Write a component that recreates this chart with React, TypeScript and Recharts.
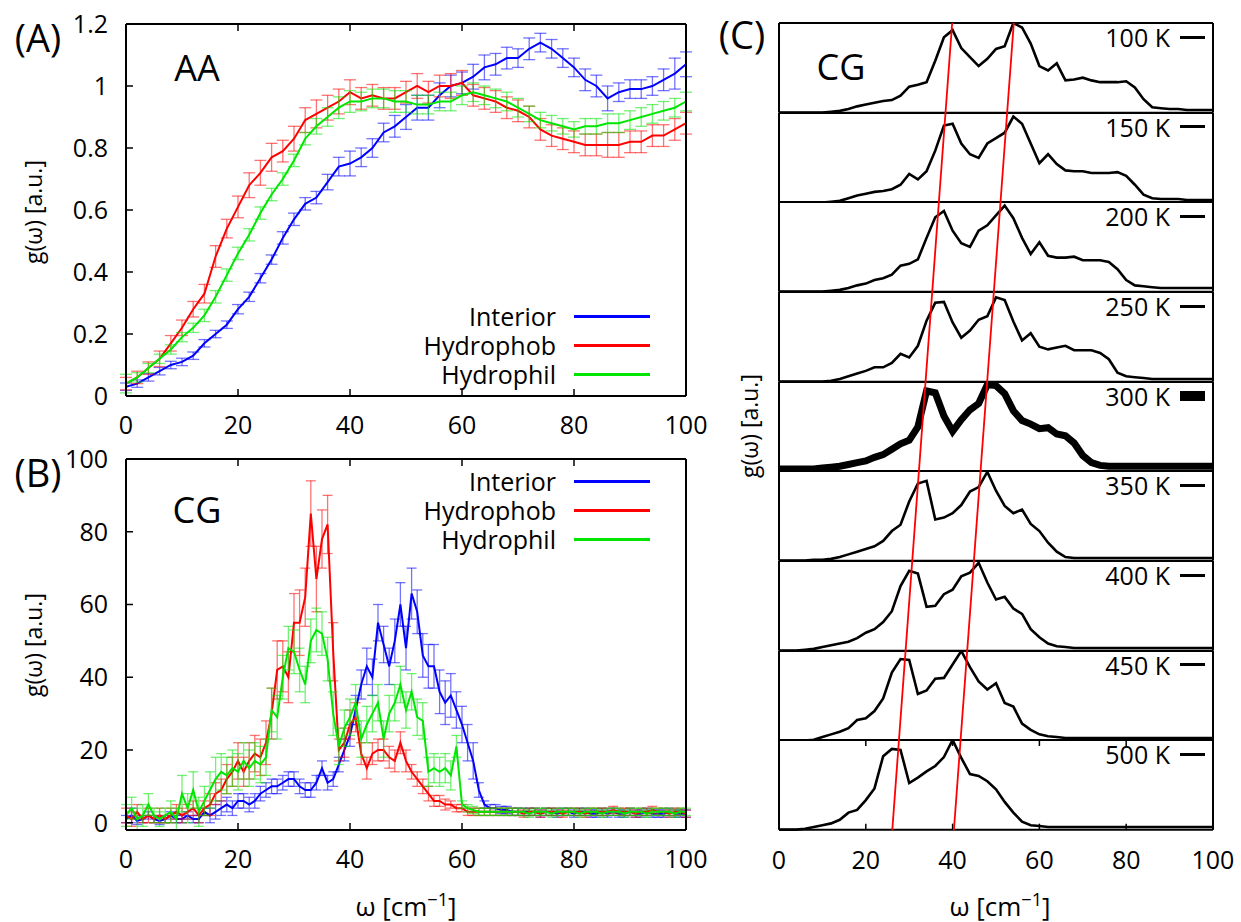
import React from 'react';
import { LineChart, Line, XAxis, YAxis, ErrorBar } from 'recharts';

const FONT = "'Open Sans', 'DejaVu Sans', sans-serif";
const BLUE = '#0000ff';
const RED = '#ff0000';
const GREEN = '#00e600';

// ---- panel (A): all-atom spectra, one point every 2 cm^-1
const omegaAA = [
  0, 2, 4, 6, 8, 10, 12, 14, 16, 18, 20, 22, 24, 26, 28, 30, 32, 34, 36, 38, 40, 42, 44, 46, 48, 50,
  52, 54, 56, 58, 60, 62, 64, 66, 68, 70, 72, 74, 76, 78, 80, 82, 84, 86, 88, 90, 92, 94, 96, 98, 100,
];
const aaInterior = [
  0.03, 0.04, 0.06, 0.08, 0.10, 0.11, 0.13, 0.17, 0.20, 0.23,
  0.28, 0.32, 0.38, 0.44, 0.51, 0.57, 0.62, 0.64, 0.69, 0.74,
  0.75, 0.77, 0.80, 0.85, 0.87, 0.90, 0.93, 0.93, 0.97, 1.00,
  1.01, 1.03, 1.06, 1.07, 1.09, 1.09, 1.12, 1.14, 1.12, 1.09,
  1.06, 1.02, 1.00, 0.96, 0.98, 0.99, 0.99, 1.00, 1.02, 1.04, 1.07,
];
const aaInteriorErr = [
  0.012, 0.012, 0.012, 0.012, 0.012, 0.012, 0.012, 0.012, 0.012, 0.012,
  0.015, 0.015, 0.015, 0.015, 0.02, 0.02, 0.02, 0.02, 0.025, 0.03,
  0.04, 0.03, 0.03, 0.03, 0.035, 0.04, 0.04, 0.04, 0.04, 0.035,
  0.035, 0.04, 0.04, 0.035, 0.035, 0.03, 0.035, 0.03, 0.03, 0.03,
  0.03, 0.035, 0.035, 0.04, 0.03, 0.03, 0.03, 0.03, 0.035, 0.05, 0.04,
];
const aaHydrophob = [
  0.04, 0.06, 0.09, 0.12, 0.17, 0.22, 0.28, 0.33, 0.45, 0.54,
  0.61, 0.68, 0.72, 0.77, 0.79, 0.83, 0.89, 0.91, 0.93, 0.95,
  0.98, 0.96, 0.97, 0.96, 0.96, 0.98, 1.00, 0.98, 1.00, 1.00,
  1.01, 0.97, 0.96, 0.95, 0.93, 0.92, 0.90, 0.86, 0.84, 0.83,
  0.82, 0.81, 0.81, 0.81, 0.81, 0.82, 0.82, 0.84, 0.84, 0.86, 0.88,
];
const aaHydrophobErr = [
  0.02, 0.02, 0.02, 0.025, 0.025, 0.025, 0.025, 0.03, 0.035, 0.03,
  0.035, 0.04, 0.04, 0.045, 0.035, 0.04, 0.04, 0.045, 0.04, 0.04,
  0.04, 0.035, 0.035, 0.035, 0.035, 0.035, 0.04, 0.035, 0.035, 0.04,
  0.04, 0.035, 0.035, 0.035, 0.035, 0.035, 0.035, 0.035, 0.035, 0.035,
  0.035, 0.035, 0.035, 0.04, 0.04, 0.035, 0.035, 0.035, 0.035, 0.035, 0.035,
];
const aaHydrophil = [
  0.04, 0.06, 0.09, 0.12, 0.15, 0.19, 0.22, 0.26, 0.32, 0.39,
  0.46, 0.52, 0.59, 0.65, 0.70, 0.76, 0.83, 0.87, 0.90, 0.93,
  0.95, 0.95, 0.96, 0.96, 0.95, 0.95, 0.94, 0.94, 0.95, 0.95,
  0.97, 0.98, 0.97, 0.96, 0.95, 0.93, 0.91, 0.89, 0.88, 0.87,
  0.86, 0.87, 0.87, 0.88, 0.88, 0.89, 0.90, 0.91, 0.92, 0.93, 0.95,
];
const aaHydrophilErr = [
  0.03, 0.015, 0.015, 0.015, 0.015, 0.015, 0.015, 0.02, 0.02, 0.02,
  0.02, 0.02, 0.02, 0.02, 0.02, 0.02, 0.02, 0.025, 0.03, 0.035,
  0.035, 0.03, 0.03, 0.03, 0.035, 0.035, 0.03, 0.03, 0.03, 0.03,
  0.03, 0.03, 0.03, 0.03, 0.03, 0.03, 0.025, 0.025, 0.025, 0.025,
  0.025, 0.025, 0.025, 0.03, 0.03, 0.03, 0.03, 0.03, 0.03, 0.03, 0.03,
];

// ---- panel (B): coarse-grained spectra, one point every 1 cm^-1
const omegaCG = [
  0, 1, 2, 3, 4, 5, 6, 7, 8, 9, 10, 11, 12, 13, 14, 15, 16, 17, 18, 19,
  20, 21, 22, 23, 24, 25, 26, 27, 28, 29, 30, 31, 32, 33, 34, 35, 36, 37, 38, 39,
  40, 41, 42, 43, 44, 45, 46, 47, 48, 49, 50, 51, 52, 53, 54, 55, 56, 57, 58, 59,
  60, 61, 62, 63, 64, 65, 66, 67, 68, 69, 70, 71, 72, 73, 74, 75, 76, 77, 78, 79,
  80, 81, 82, 83, 84, 85, 86, 87, 88, 89, 90, 91, 92, 93, 94, 95, 96, 97, 98, 99, 100,
];
const cgInterior = [
  1, 2, 0.5, 1, 2, 1, 0.5, 1, 2, 1,
  1, 2, 1, 1, 3, 2, 3, 4, 5, 4,
  6, 6, 5, 6, 8, 9, 10, 10, 11, 12,
  12, 10, 9, 9, 11, 15, 11, 12, 16, 20,
  24, 31, 38, 43, 40, 55, 49, 43, 50, 60,
  48, 63, 58, 46, 43, 43, 36, 33, 35, 31,
  27, 22, 17, 9, 5, 4, 4, 3.5, 3.5, 3,
  3, 3, 3, 3, 2.5, 3, 3, 2.5, 3, 3,
  2.5, 3, 3, 2.5, 2.5, 3, 2.5, 3, 2.5, 2.5,
  3, 2.5, 2.5, 3, 2.5, 2.5, 2.5, 3, 2.5, 2.5, 2.5,
];
const cgInteriorErr = [
  1, 2, 1, 1, 1, 1, 1, 1, 1, 1,
  1, 1, 1, 1, 1, 2, 2, 2, 2, 2,
  2, 2, 2, 2, 2, 2, 2, 2, 2, 2,
  2, 2, 2, 2, 2, 2, 2, 2, 2, 3,
  3, 4, 4, 5, 5, 5, 5, 5, 6, 6,
  6, 7, 6, 6, 6, 6, 6, 6, 6, 5,
  5, 5, 5, 2, 1, 1, 1, 1, 1, 1,
  1, 1, 1, 1, 1, 1, 1, 1, 1, 1,
  1, 1, 1, 1, 1, 1, 1, 1, 1, 1,
  1, 1, 1, 1, 1, 1, 1, 1, 1, 1, 1,
];
const cgHydrophob = [
  2, 1, 3, 1, 2, 1, 2, 1, 2, 3,
  2, 3, 4, 2, 4, 5, 8, 9, 12, 14,
  17, 14, 17, 19, 18, 22, 30, 42, 43, 40,
  55, 55, 62, 85, 67, 78, 82, 47, 20, 22,
  27, 29, 19, 15, 19, 20, 20, 18, 17, 22,
  17, 14, 12, 10, 8, 6, 6, 5, 5, 4,
  4, 3, 3, 3, 3, 3, 3, 3, 3, 3,
  3, 2.5, 3, 3, 2.5, 3, 3, 3, 2.5, 3,
  3, 3, 2.5, 3, 3, 3, 3, 3.5, 3, 3,
  3, 2.5, 3, 3, 3.5, 3, 3, 2.5, 3, 3, 2.5,
];
const cgHydrophobErr = [
  2, 2, 2, 1, 2, 1, 2, 1, 2, 2,
  2, 2, 2, 2, 2, 3, 3, 3, 4, 4,
  5, 4, 5, 5, 5, 6, 7, 8, 7, 7,
  8, 9, 8, 9, 9, 8, 8, 8, 3, 4,
  4, 4, 3, 3, 3, 3, 3, 3, 3, 3,
  3, 2, 2, 2, 2, 1.5, 1.5, 1.5, 1, 1,
  1, 1, 1, 1, 1, 1, 1, 1, 1, 1,
  1, 1, 1, 1, 1, 1, 1, 1, 1, 1,
  1, 1, 1, 1, 1, 1, 1, 1, 1, 1,
  1, 1, 1, 1, 1, 1, 1, 1, 1, 1, 1,
];
const cgHydrophil = [
  2, 4, 1, 2, 5, 2, 1, 2, 3, 1,
  8, 4, 9, 3, 6, 9, 12, 14, 13, 15,
  14, 17, 15, 17, 16, 18, 31, 29, 40, 48,
  47, 42, 38, 50, 53, 52, 45, 30, 21, 26,
  29, 33, 23, 27, 30, 33, 23, 30, 33, 38,
  31, 36, 29, 28, 14, 15, 14, 15, 13, 21,
  5, 4, 3.5, 3, 3, 3, 3, 3, 3, 3,
  3, 3, 2.5, 3, 3, 3, 2.5, 3, 3, 3,
  3, 2.5, 3, 3, 3, 2.5, 3, 3, 3, 2.5,
  3, 3, 3, 2.5, 3, 3, 3, 3, 2.5, 3, 3,
];
const cgHydrophilErr = [
  3, 3, 3, 3, 3, 2, 2, 2, 3, 3,
  5, 4, 5, 4, 4, 5, 6, 5, 5, 5,
  5, 5, 5, 5, 5, 5, 6, 6, 6, 6,
  6, 6, 5, 6, 6, 6, 6, 6, 5, 5,
  5, 5, 5, 5, 5, 5, 5, 5, 5, 5,
  5, 5, 5, 5, 4, 4, 4, 4, 4, 3,
  1, 1, 1, 1, 1, 1, 1, 1, 1, 1,
  1, 1, 1, 1, 1, 1, 1, 1, 1, 1,
  1, 1, 1, 1, 1, 1, 1, 1, 1, 1,
  1, 1, 1, 1, 1, 1, 1, 1, 1, 1, 1,
];

// ---- panel (C): CG spectra vs temperature (normalised per panel)
const omegaT = omegaAA;
const temps = ['100 K', '150 K', '200 K', '250 K', '300 K', '350 K', '400 K', '450 K', '500 K'];
const g100 = [
  0, 0, 0, 0, 0, 0, 0.01, 0.02, 0.04, 0.07, 0.09, 0.11, 0.13, 0.14, 0.19, 0.29, 0.31, 0.34, 0.58, 0.84,
  0.92, 0.72, 0.62, 0.52, 0.60, 0.71, 0.74, 1.0, 0.95, 0.77, 0.52, 0.47, 0.55, 0.36, 0.37, 0.39, 0.36, 0.34, 0.34, 0.34,
  0.35, 0.28, 0.15, 0.06, 0.05, 0.04, 0.04, 0.03, 0.03, 0.03, 0.03,
];
const g150 = [
  0, 0, 0, 0, 0, 0, 0.01, 0.02, 0.05, 0.08, 0.10, 0.12, 0.13, 0.15, 0.20, 0.32, 0.26, 0.35, 0.58, 0.86,
  0.88, 0.66, 0.54, 0.50, 0.66, 0.72, 0.78, 0.96, 0.88, 0.66, 0.44, 0.54, 0.43, 0.36, 0.35, 0.35, 0.33, 0.33, 0.33, 0.34,
  0.30, 0.20, 0.09, 0.05, 0.04, 0.04, 0.04, 0.03, 0.03, 0.03, 0.03,
];
const g200 = [
  0, 0, 0, 0, 0, 0, 0.01, 0.02, 0.04, 0.07, 0.09, 0.13, 0.15, 0.19, 0.29, 0.31, 0.36, 0.60, 0.83, 0.90,
  0.68, 0.54, 0.50, 0.68, 0.74, 0.85, 0.96, 0.82, 0.60, 0.42, 0.55, 0.40, 0.38, 0.38, 0.39, 0.35, 0.35, 0.35, 0.33, 0.25,
  0.13, 0.07, 0.06, 0.05, 0.04, 0.04, 0.04, 0.04, 0.04, 0.04, 0.04,
];
const g250 = [
  0, 0, 0, 0, 0, 0, 0.01, 0.03, 0.06, 0.09, 0.12, 0.16, 0.16, 0.21, 0.31, 0.27, 0.40, 0.68, 0.88, 0.89,
  0.66, 0.49, 0.57, 0.69, 0.73, 0.94, 0.91, 0.67, 0.46, 0.54, 0.39, 0.36, 0.38, 0.40, 0.35, 0.35, 0.35, 0.32, 0.25, 0.10,
  0.06, 0.05, 0.04, 0.03, 0.03, 0.03, 0.03, 0.03, 0.03, 0.03, 0.03,
];
const g300 = [
  0.03, 0.03, 0.03, 0.03, 0.03, 0.04, 0.05, 0.06, 0.08, 0.10, 0.12, 0.16, 0.19, 0.25, 0.31, 0.35, 0.50, 0.90, 0.88, 0.62,
  0.45, 0.58, 0.69, 0.76, 0.97, 0.96, 0.87, 0.68, 0.57, 0.53, 0.48, 0.49, 0.42, 0.40, 0.32, 0.18, 0.10, 0.07, 0.06, 0.06,
  0.06, 0.06, 0.06, 0.06, 0.06, 0.06, 0.06, 0.06, 0.06, 0.06, 0.06,
];
const g350 = [
  0, 0, 0, 0, 0.01, 0.01, 0.02, 0.04, 0.07, 0.10, 0.13, 0.16, 0.22, 0.33, 0.40, 0.66, 0.86, 0.89, 0.46, 0.48,
  0.53, 0.62, 0.77, 0.82, 0.99, 0.78, 0.61, 0.53, 0.57, 0.41, 0.33, 0.20, 0.10, 0.04, 0.03, 0.03, 0.03, 0.03, 0.03, 0.03,
  0.03, 0.03, 0.03, 0.03, 0.03, 0.03, 0.03, 0.03, 0.03, 0.03, 0.03,
];
const g400 = [
  0, 0, 0, 0.01, 0.02, 0.04, 0.06, 0.08, 0.10, 0.14, 0.20, 0.24, 0.32, 0.44, 0.72, 0.89, 0.86, 0.49, 0.50, 0.63,
  0.68, 0.83, 0.87, 0.98, 0.76, 0.57, 0.60, 0.47, 0.41, 0.24, 0.15, 0.08, 0.05, 0.04, 0.03, 0.03, 0.03, 0.03, 0.03, 0.03,
  0.03, 0.03, 0.03, 0.03, 0.03, 0.03, 0.03, 0.03, 0.03, 0.03, 0.03,
];
const g450 = [
  0, 0, 0, 0, 0.01, 0.04, 0.07, 0.10, 0.14, 0.23, 0.25, 0.33, 0.47, 0.76, 0.91, 0.90, 0.52, 0.56, 0.69, 0.70,
  0.85, 1.0, 0.82, 0.66, 0.57, 0.64, 0.42, 0.38, 0.19, 0.12, 0.07, 0.05, 0.04, 0.03, 0.03, 0.03, 0.03, 0.03, 0.03, 0.03,
  0.03, 0.03, 0.03, 0.03, 0.03, 0.03, 0.03, 0.03, 0.03, 0.03, 0.03,
];
const g500 = [
  0, 0, 0, 0.01, 0.03, 0.05, 0.07, 0.11, 0.19, 0.22, 0.33, 0.46, 0.82, 0.90, 0.89, 0.52, 0.58, 0.65, 0.71, 0.81,
  1.0, 0.80, 0.62, 0.60, 0.54, 0.45, 0.31, 0.19, 0.09, 0.05, 0.04, 0.03, 0.03, 0.03, 0.03, 0.03, 0.03, 0.03, 0.03, 0.03,
  0.03, 0.03, 0.03, 0.03, 0.03, 0.03, 0.03, 0.03, 0.03, 0.03, 0.03,
];
const tempSeries = [g100, g150, g200, g250, g300, g350, g400, g450, g500];
const BOLD_TEMP = '300 K';

// red guide lines through the two peaks (omega at top of 100 K panel, at bottom of 500 K panel)
const peakLowOmega = [39.9, 26.1];
const peakHighOmega = [54.1, 40.3];
const guideFrac = [1, 0];

const omegaTicks = [0, 20, 40, 60, 80, 100];
const aaTicks = [0, 0.2, 0.4, 0.6, 0.8, 1, 1.2];
const cgTicks = [0, 20, 40, 60, 80, 100];

const aaRows = omegaAA.map((w, i) => ({
  w,
  interior: aaInterior[i], interiorErr: aaInteriorErr[i],
  hydrophob: aaHydrophob[i], hydrophobErr: aaHydrophobErr[i],
  hydrophil: aaHydrophil[i], hydrophilErr: aaHydrophilErr[i],
}));
const cgRows = omegaCG.map((w, i) => ({
  w,
  interior: cgInterior[i], interiorErr: cgInteriorErr[i],
  hydrophob: cgHydrophob[i], hydrophobErr: cgHydrophobErr[i],
  hydrophil: cgHydrophil[i], hydrophilErr: cgHydrophilErr[i],
}));
const guideLow = guideFrac.map((g, i) => ({ w: peakLowOmega[i], g }));
const guideHigh = guideFrac.map((g, i) => ({ w: peakHighOmega[i], g }));

const tickText = { fill: '#000', fontSize: 25, fontFamily: FONT };
const axisStroke = { stroke: '#000', strokeWidth: 2 };
const tickStroke = { stroke: '#000', strokeWidth: 1.5 };
const blank = () => '';

const PANEL_H = 807 / 9;
const C_PAD_L = 20;
const C_PAD_R = 30;

// frame axes shared by panels A and B (gnuplot-style inward ticks on all four sides)
function frameAxes(yDomain: number[], yTicks: number[]) {
  return [
    <XAxis key="xb" dataKey="w" type="number" domain={[0, 100]} ticks={omegaTicks} interval={0}
      height={74} tickSize={-7} tickMargin={27} tick={tickText} axisLine={axisStroke} tickLine={tickStroke} />,
    <XAxis key="xt" xAxisId="top" orientation="top" dataKey="w" type="number" domain={[0, 100]}
      ticks={omegaTicks} interval={0} height={1} tickSize={-7} tickFormatter={blank}
      axisLine={axisStroke} tickLine={tickStroke} />,
    <YAxis key="yl" type="number" domain={yDomain} ticks={yTicks} interval={0} width={126}
      tickSize={-7} tickMargin={25} tick={tickText} axisLine={axisStroke} tickLine={tickStroke} />,
    <YAxis key="yr" yAxisId="right" orientation="right" type="number" domain={yDomain} ticks={yTicks}
      interval={0} width={1} tickSize={-7} tickFormatter={blank} axisLine={axisStroke} tickLine={tickStroke} />,
  ];
}

function seriesLines(errWidth: number) {
  const defs = [
    { key: 'interior', color: BLUE },
    { key: 'hydrophob', color: RED },
    { key: 'hydrophil', color: GREEN },
  ];
  return defs.map((d) => (
    <Line key={d.key} dataKey={d.key} stroke={d.color} strokeWidth={2} dot={false} isAnimationActive={false}>
      <ErrorBar dataKey={`${d.key}Err`} width={errWidth} stroke={d.color} strokeOpacity={0.55}
        strokeWidth={1.3} isAnimationActive={false} />
    </Line>
  ));
}

type TxtProps = { x: number; y: number; size: number; anchor?: 'mid' | 'end'; rotate?: boolean; children: React.ReactNode };
const Txt = ({ x, y, size, anchor = 'mid', rotate, children }: TxtProps) => (
  <div
    style={{
      position: 'absolute', left: x, top: y, fontSize: size, lineHeight: 1, whiteSpace: 'nowrap',
      fontFamily: FONT, color: '#000',
      transform: `translate(${anchor === 'end' ? '-100%' : '-50%'}, -50%)${rotate ? ' rotate(-90deg)' : ''}`,
    }}
  >
    {children}
  </div>
);

const seriesKey = [
  { label: 'Interior', color: BLUE },
  { label: 'Hydrophob', color: RED },
  { label: 'Hydrophil', color: GREEN },
];

function KeyBlock({ ys }: { ys: number[] }) {
  return (
    <>
      {seriesKey.map((s, i) => (
        <React.Fragment key={s.label}>
          <Txt x={556} y={ys[i]} size={25} anchor="end">{s.label}</Txt>
          <div style={{ position: 'absolute', left: 574, top: ys[i] - 1.5, width: 76, height: 3, background: s.color }} />
        </React.Fragment>
      ))}
    </>
  );
}

const OmegaTitle = ({ x }: { x: number }) => (
  <Txt x={x} y={906} size={26}>
    ω [cm<sup style={{ fontSize: '0.7em', verticalAlign: '0.55em', lineHeight: 0 }}>−1</sup>]
  </Txt>
);

export default function App() {
  return (
    <div style={{ position: 'absolute', left: 0, top: 0, width: 1241, height: 922, background: '#fff', fontFamily: FONT }}>
      {/* (A) all-atom */}
      <div style={{ position: 'absolute', left: 0, top: 0 }}>
        <LineChart width={740} height={470} data={aaRows} margin={{ top: 23, right: 53, bottom: 0, left: 0 }}>
          {frameAxes([0, 1.2], aaTicks)}
          {seriesLines(6)}
        </LineChart>
      </div>

      {/* (B) coarse-grained */}
      <div style={{ position: 'absolute', left: 0, top: 430 }}>
        <LineChart width={740} height={474} data={cgRows} margin={{ top: 28, right: 53, bottom: 0, left: 0 }}>
          {frameAxes([0, 100], [0, 20, 40, 60, 80, 100])}
          {seriesLines(5)}
        </LineChart>
      </div>

      {/* (C) temperature stack */}
      {temps.map((t, i) => {
        const last = i === temps.length - 1;
        const rows = omegaT.map((w, j) => ({ w, g: tempSeries[i][j] }));
        return (
          <div key={t} style={{ position: 'absolute', left: 778 - C_PAD_L, top: 22 + i * PANEL_H }}>
            <LineChart width={436 + C_PAD_L + C_PAD_R} height={PANEL_H + (last ? 62 : 2)} data={rows}
              margin={{ top: 0, right: C_PAD_R, bottom: 0, left: C_PAD_L }}>
              <XAxis dataKey="w" type="number" domain={[0, 100]} ticks={cgTicks} interval={0}
                height={last ? 61 : 1} tickSize={-6} tickMargin={28}
                tick={last ? tickText : false} tickLine={last ? tickStroke : false} axisLine={axisStroke} />
              <XAxis xAxisId="top" orientation="top" dataKey="w" type="number" domain={[0, 100]} ticks={cgTicks}
                interval={0} height={1} tickSize={-6} tickFormatter={blank}
                tickLine={last ? tickStroke : false} axisLine={axisStroke} />
              <YAxis type="number" domain={[0, 1]} ticks={[0, 1]} width={1} tick={false} tickLine={false} axisLine={axisStroke} />
              <YAxis yAxisId="right" orientation="right" type="number" domain={[0, 1]} ticks={[0, 1]} width={1}
                tick={false} tickLine={false} axisLine={axisStroke} />
              <Line dataKey="g" stroke="#000" strokeWidth={t === BOLD_TEMP ? 7 : 2.6}
                dot={false} isAnimationActive={false} />
            </LineChart>
          </div>
        );
      })}

      {/* red peak guides across the whole stack */}
      <div style={{ position: 'absolute', left: 779, top: 23, pointerEvents: 'none' }}>
        <LineChart width={434} height={807} margin={{ top: 0, right: 0, bottom: 0, left: 0 }}>
          <XAxis dataKey="w" type="number" domain={[0, 100]} hide />
          <YAxis type="number" domain={[0, 1]} hide />
          <Line data={guideLow} dataKey="g" stroke={RED} strokeWidth={1.8} dot={false} isAnimationActive={false} />
          <Line data={guideHigh} dataKey="g" stroke={RED} strokeWidth={1.8} dot={false} isAnimationActive={false} />
        </LineChart>
      </div>

      {/* labels */}
      <Txt x={38} y={37} size={38}>(A)</Txt>
      <Txt x={38} y={472} size={38}>(B)</Txt>
      <Txt x={742} y={34} size={38}>(C)</Txt>
      <Txt x={197} y={68} size={36}>AA</Txt>
      <Txt x={197} y={510} size={36}>CG</Txt>
      <Txt x={841} y={67} size={36}>CG</Txt>

      <Txt x={33} y={212} size={23} rotate>g(ω) [a.u.]</Txt>
      <Txt x={33} y={645} size={23} rotate>g(ω) [a.u.]</Txt>
      <Txt x={749} y={426} size={23} rotate>g(ω) [a.u.]</Txt>

      <OmegaTitle x={406} />
      <OmegaTitle x={1000} />

      <KeyBlock ys={[316, 345, 374]} />
      <KeyBlock ys={[481, 510, 539]} />

      {temps.map((t, i) => (
        <React.Fragment key={`k${t}`}>
          <Txt x={1170} y={23 + i * PANEL_H + 14} size={25} anchor="end">{t}</Txt>
          <div style={{
            position: 'absolute', left: 1180, width: 25,
            top: 23 + i * PANEL_H + 14 - (t === BOLD_TEMP ? 5 : 1.5),
            height: t === BOLD_TEMP ? 10 : 3, background: '#000',
          }} />
        </React.Fragment>
      ))}
    </div>
  );
}
